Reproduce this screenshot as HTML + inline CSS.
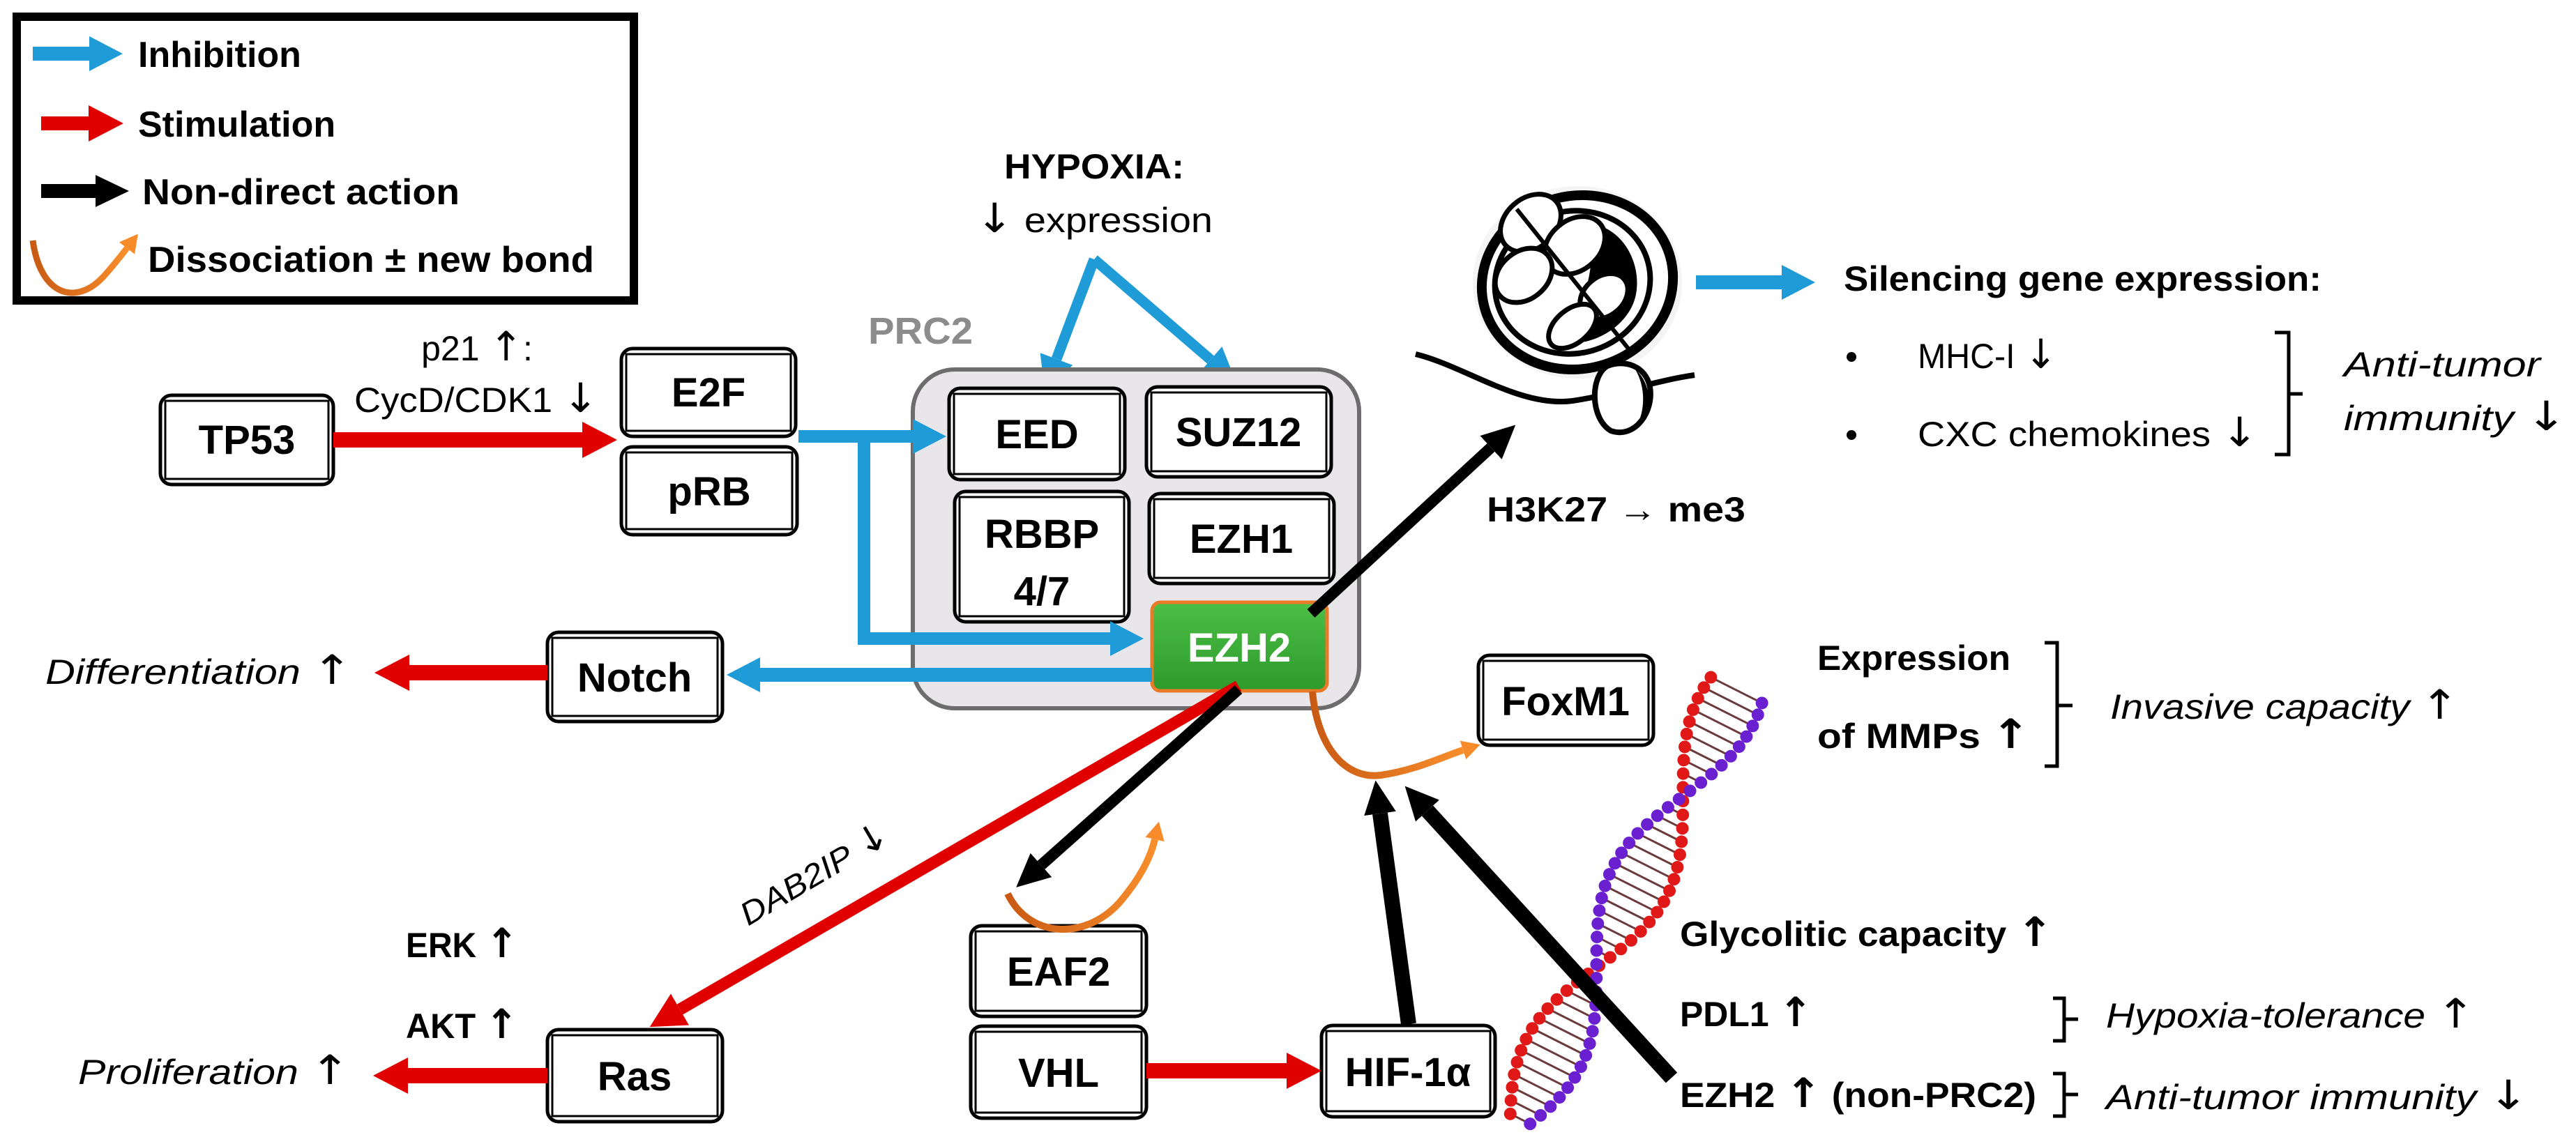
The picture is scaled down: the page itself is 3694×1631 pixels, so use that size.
<!DOCTYPE html>
<html><head><meta charset="utf-8"><style>
html,body{margin:0;padding:0;background:#fff;}
svg{display:block;}
text{font-family:"Liberation Sans",sans-serif;}
.b{font-weight:bold;}
.i{font-style:italic;}
.ar{font-family:"DejaVu Sans",sans-serif;font-style:normal;font-size:58px;}
</style></head><body>
<svg width="3694" height="1631" viewBox="0 0 3694 1631" xmlns="http://www.w3.org/2000/svg">
<defs>
<marker id="hb" markerUnits="userSpaceOnUse" markerWidth="48" markerHeight="50" refX="0" refY="25" orient="auto"><path d="M0,0 L48,25 L0,50 z" fill="#1f9bd7"/></marker>
<marker id="hr" markerUnits="userSpaceOnUse" markerWidth="50" markerHeight="52" refX="0" refY="26" orient="auto"><path d="M0,0 L50,26 L0,52 z" fill="#e00000"/></marker>
<marker id="hk" markerUnits="userSpaceOnUse" markerWidth="48" markerHeight="46" refX="0" refY="23" orient="auto"><path d="M0,0 L48,23 L0,46 z" fill="#000"/></marker>
<marker id="ho" markerUnits="userSpaceOnUse" markerWidth="26" markerHeight="28" refX="0" refY="14" orient="auto"><path d="M0,0 L26,14 L0,28 z" fill="#f78b2a"/></marker>
<linearGradient id="og" x1="0" y1="0" x2="1" y2="0"><stop offset="0" stop-color="#c85a14"/><stop offset="1" stop-color="#f98e2c"/></linearGradient>
<linearGradient id="gg" x1="0" y1="0" x2="0" y2="1"><stop offset="0" stop-color="#4cbf46"/><stop offset="1" stop-color="#2e9a2c"/></linearGradient>
</defs>

<!-- Legend -->
<rect x="24" y="24" width="885" height="407" fill="#fff" stroke="#000" stroke-width="12"/>
<line x1="47" y1="77" x2="128" y2="77" stroke="#1f9bd7" stroke-width="20" marker-end="url(#hb)"/>
<text x="198" y="96" class="b" font-size="52">Inhibition</text>
<line x1="59" y1="177" x2="127" y2="177" stroke="#e00000" stroke-width="20" marker-end="url(#hr)"/>
<text x="198" y="196" class="b" font-size="52">Stimulation</text>
<line x1="59" y1="274" x2="137" y2="274" stroke="#000" stroke-width="20" marker-end="url(#hk)"/>
<text x="204" y="293" class="b" font-size="52" textLength="455" lengthAdjust="spacingAndGlyphs">Non-direct action</text>
<path d="M47,345 C58,425 110,440 150,395 C165,378 175,365 182,356" fill="none" stroke="url(#og)" stroke-width="9" marker-end="url(#ho)"/>
<text x="212" y="390" class="b" font-size="52" textLength="640" lengthAdjust="spacingAndGlyphs">Dissociation ± new bond</text>

<!-- HYPOXIA -->
<text x="1569" y="256" class="b" font-size="50" text-anchor="middle" textLength="258" lengthAdjust="spacingAndGlyphs">HYPOXIA:</text>
<text x="1569" y="333" font-size="50" text-anchor="middle" textLength="340" lengthAdjust="spacingAndGlyphs"><tspan class="ar">↓</tspan> expression</text>
<line x1="1569" y1="372" x2="1515" y2="515" stroke="#1f9bd7" stroke-width="15" marker-end="url(#hb)"/>
<line x1="1569" y1="372" x2="1736" y2="516" stroke="#1f9bd7" stroke-width="15" marker-end="url(#hb)"/>

<!-- PRC2 -->
<text x="1245" y="493" class="b" font-size="54" fill="#8c8c8c" textLength="150" lengthAdjust="spacingAndGlyphs">PRC2</text>
<rect x="1309" y="530" width="640" height="486" rx="60" fill="#e8e6e8" stroke="#6d6d6d" stroke-width="6"/>

<!-- boxes -->
<g fill="#fff" stroke="#000">
<rect x="230" y="567" width="248" height="128" rx="16" stroke-width="5"/><rect x="237" y="575" width="234" height="112" stroke-width="3"/>
<rect x="891" y="500" width="250" height="126" rx="16" stroke-width="5"/><rect x="898" y="508" width="236" height="110" stroke-width="3"/>
<rect x="891" y="641" width="252" height="126" rx="16" stroke-width="5"/><rect x="898" y="649" width="238" height="110" stroke-width="3"/>
<rect x="1361" y="557" width="252" height="131" rx="16" stroke-width="5"/><rect x="1368" y="565" width="238" height="115" stroke-width="3"/>
<rect x="1644" y="555" width="265" height="129" rx="16" stroke-width="5"/><rect x="1651" y="563" width="251" height="113" stroke-width="3"/>
<rect x="1369" y="705" width="250" height="187" rx="16" stroke-width="5"/><rect x="1376" y="713" width="236" height="171" stroke-width="3"/>
<rect x="1648" y="708" width="265" height="129" rx="16" stroke-width="5"/><rect x="1655" y="716" width="251" height="113" stroke-width="3"/>
<rect x="785" y="907" width="251" height="128" rx="16" stroke-width="5"/><rect x="792" y="915" width="237" height="112" stroke-width="3"/>
<rect x="2120" y="940" width="251" height="129" rx="16" stroke-width="5"/><rect x="2127" y="948" width="237" height="113" stroke-width="3"/>
<rect x="1392" y="1328" width="252" height="130" rx="16" stroke-width="5"/><rect x="1399" y="1336" width="238" height="114" stroke-width="3"/>
<rect x="1392" y="1472" width="252" height="132" rx="16" stroke-width="5"/><rect x="1399" y="1480" width="238" height="116" stroke-width="3"/>
<rect x="785" y="1477" width="251" height="132" rx="16" stroke-width="5"/><rect x="792" y="1485" width="237" height="116" stroke-width="3"/>
<rect x="1895" y="1471" width="249" height="131" rx="16" stroke-width="5"/><rect x="1902" y="1479" width="235" height="115" stroke-width="3"/>
</g>
<rect x="1652" y="864" width="251" height="127" rx="12" fill="url(#gg)" stroke="#e87a2a" stroke-width="5"/>

<g class="b" font-size="58" text-anchor="middle" font-weight="bold">
<text x="354" y="651">TP53</text>
<text x="1016" y="583">E2F</text>
<text x="1017" y="725">pRB</text>
<text x="1487" y="643">EED</text>
<text x="1776" y="640">SUZ12</text>
<text x="1494" y="786">RBBP</text>
<text x="1494" y="868">4/7</text>
<text x="1780" y="793">EZH1</text>
<text x="1777" y="949" fill="#fff">EZH2</text>
<text x="910" y="992">Notch</text>
<text x="2245" y="1026">FoxM1</text>
<text x="1518" y="1414">EAF2</text>
<text x="1518" y="1559">VHL</text>
<text x="910" y="1564">Ras</text>
<text x="2019" y="1558">HIF-1α</text>
</g>

<!-- TP53 label -->
<text x="684" y="517" font-size="50" text-anchor="middle">p21 <tspan class="ar">↑</tspan>:</text>
<text x="683" y="591" font-size="50" text-anchor="middle" textLength="350" lengthAdjust="spacingAndGlyphs">CycD/CDK1 <tspan class="ar">↓</tspan></text>
<line x1="478" y1="631" x2="835" y2="631" stroke="#e00000" stroke-width="22" marker-end="url(#hr)"/>

<!-- blue from E2F -->
<polyline points="1145,626 1309,626" fill="none" stroke="#1f9bd7" stroke-width="18" marker-end="url(#hb)"/>
<polyline points="1239,626 1239,916 1592,916" fill="none" stroke="#1f9bd7" stroke-width="18" marker-end="url(#hb)"/>
<line x1="1652" y1="968" x2="1090" y2="968" stroke="#1f9bd7" stroke-width="20" marker-end="url(#hb)"/>

<!-- Notch -> diff -->
<line x1="785" y1="965" x2="587" y2="965" stroke="#e00000" stroke-width="22" marker-end="url(#hr)"/>
<text x="65" y="981" class="i" font-size="50" textLength="440" lengthAdjust="spacingAndGlyphs">Differentiation <tspan class="ar">↑</tspan></text>

<!-- EZH2 -> Ras -->
<line x1="1776" y1="984" x2="975" y2="1448" stroke="#e00000" stroke-width="17" marker-end="url(#hr)"/>
<text transform="translate(1168,1254) rotate(-30.5)" x="0" y="16" class="i" font-size="46" text-anchor="middle" textLength="240" lengthAdjust="spacingAndGlyphs">DAB2IP <tspan class="ar" style="font-size:52px">↓</tspan></text>
<!-- EZH2 -> EAF2 -->
<line x1="1776" y1="989" x2="1493" y2="1241" stroke="#000" stroke-width="16" marker-end="url(#hk)"/>
<path d="M1445,1282 C1475,1345 1555,1350 1605,1295 C1635,1260 1650,1230 1656,1204" fill="none" stroke="url(#og)" stroke-width="10" marker-end="url(#ho)"/>

<!-- Ras -->
<line x1="785" y1="1543" x2="585" y2="1543" stroke="#e00000" stroke-width="22" marker-end="url(#hr)"/>
<text x="112" y="1555" class="i" font-size="50" textLength="390" lengthAdjust="spacingAndGlyphs">Proliferation <tspan class="ar">↑</tspan></text>
<text x="582" y="1373" class="b" font-size="50" textLength="161" lengthAdjust="spacingAndGlyphs">ERK <tspan class="ar">↑</tspan></text>
<text x="582" y="1489" class="b" font-size="50" textLength="161" lengthAdjust="spacingAndGlyphs">AKT <tspan class="ar">↑</tspan></text>
<!-- VHL -> HIF -->
<line x1="1644" y1="1536" x2="1845" y2="1536" stroke="#e00000" stroke-width="22" marker-end="url(#hr)"/>

<!-- nucleosome -->
<g>
<ellipse cx="2262" cy="405" rx="150" ry="138" fill="#f4f4f4"/>
<path d="M2030,508 C2100,525 2180,585 2255,575 C2320,565 2380,545 2430,538" fill="none" stroke="#000" stroke-width="8"/>
<ellipse cx="2262" cy="405" rx="138" ry="124" fill="#fff" stroke="#000" stroke-width="14" transform="rotate(-15 2262 405)"/>
<ellipse cx="2255" cy="405" rx="112" ry="102" fill="none" stroke="#000" stroke-width="8" transform="rotate(-15 2255 405)"/>
<path d="M2280,320 C2340,330 2360,400 2340,440 C2320,480 2270,500 2230,490 C2270,450 2290,390 2280,320 z" fill="#000"/>
<g stroke="#000" stroke-width="7" fill="#fff">
<ellipse cx="2195" cy="320" rx="48" ry="36" transform="rotate(-40 2195 320)"/>
<ellipse cx="2258" cy="352" rx="48" ry="36" transform="rotate(-40 2258 352)"/>
<ellipse cx="2185" cy="395" rx="45" ry="34" transform="rotate(-40 2185 395)"/>
<ellipse cx="2300" cy="425" rx="38" ry="28" transform="rotate(-40 2300 425)"/>
<ellipse cx="2255" cy="468" rx="40" ry="24" transform="rotate(-40 2255 468)"/>
</g>
<line x1="2175" y1="300" x2="2335" y2="500" stroke="#000" stroke-width="6"/>
<path d="M2305,525 C2280,540 2280,600 2310,618 C2345,630 2372,590 2366,555 C2360,525 2330,515 2305,525 z" fill="#fff" stroke="#000" stroke-width="8"/>
<path d="M2345,530 C2370,550 2372,600 2345,615 C2360,590 2360,555 2345,530 z" fill="#000"/>
</g>
<text x="2132" y="748" class="b" font-size="50" textLength="371" lengthAdjust="spacingAndGlyphs">H3K27 → me3</text>
<line x1="1880" y1="880" x2="2138" y2="642" stroke="#000" stroke-width="16" marker-end="url(#hk)"/>

<line x1="2432" y1="405" x2="2555" y2="405" stroke="#1f9bd7" stroke-width="20" marker-end="url(#hb)"/>
<text x="2644" y="417" class="b" font-size="50" textLength="685" lengthAdjust="spacingAndGlyphs">Silencing gene expression:</text>
<circle cx="2655" cy="512" r="7"/><circle cx="2655" cy="624" r="7"/>
<text x="2750" y="528" font-size="50" textLength="200" lengthAdjust="spacingAndGlyphs">MHC-I <tspan class="ar">↓</tspan></text>
<text x="2750" y="640" font-size="50" textLength="488" lengthAdjust="spacingAndGlyphs">CXC chemokines <tspan class="ar">↓</tspan></text>
<path d="M3262,477 L3282,477 L3282,652 L3262,652 M3282,565 L3302,565" fill="none" stroke="#000" stroke-width="5"/>
<text x="3361" y="540" class="i" font-size="50" textLength="282" lengthAdjust="spacingAndGlyphs">Anti-tumor</text>
<text x="3361" y="617" class="i" font-size="50" textLength="320" lengthAdjust="spacingAndGlyphs">immunity <tspan class="ar">↓</tspan></text>

<!-- right lower -->
<text x="2606" y="961" class="b" font-size="50" textLength="277" lengthAdjust="spacingAndGlyphs">Expression</text>
<text x="2606" y="1073" class="b" font-size="50" textLength="305" lengthAdjust="spacingAndGlyphs">of MMPs <tspan class="ar">↑</tspan></text>
<path d="M2932,922 L2950,922 L2950,1099 L2932,1099 M2950,1012 L2972,1012" fill="none" stroke="#000" stroke-width="5"/>
<text x="3026" y="1031" class="i" font-size="50" textLength="500" lengthAdjust="spacingAndGlyphs">Invasive capacity <tspan class="ar">↑</tspan></text>

<text x="2409" y="1357" class="b" font-size="50" textLength="535" lengthAdjust="spacingAndGlyphs">Glycolitic capacity <tspan class="ar">↑</tspan></text>
<text x="2409" y="1472" class="b" font-size="50" textLength="190" lengthAdjust="spacingAndGlyphs">PDL1 <tspan class="ar">↑</tspan></text>
<path d="M2944,1432 L2960,1432 L2960,1493 L2944,1493 M2960,1462 L2980,1462" fill="none" stroke="#000" stroke-width="5"/>
<text x="3020" y="1474" class="i" font-size="50" textLength="529" lengthAdjust="spacingAndGlyphs">Hypoxia-tolerance <tspan class="ar">↑</tspan></text>
<text x="2409" y="1588" class="b" font-size="50" textLength="511" lengthAdjust="spacingAndGlyphs">EZH2 <tspan class="ar">↑</tspan> (non-PRC2)</text>
<path d="M2944,1540 L2960,1540 L2960,1601 L2944,1601 M2960,1570 L2980,1570" fill="none" stroke="#000" stroke-width="5"/>
<text x="3020" y="1591" class="i" font-size="50" textLength="606" lengthAdjust="spacingAndGlyphs">Anti-tumor immunity <tspan class="ar">↓</tspan></text>

<!-- DNA helix -->
<g id="dna"></g>

<!-- orange arc EZH2 -> FoxM1 -->
<path d="M1882,992 C1890,1080 1935,1118 1980,1112 C2030,1105 2070,1085 2098,1076" fill="none" stroke="url(#og)" stroke-width="10" marker-end="url(#ho)"/>
<!-- black arrows to arc -->
<line x1="2020" y1="1469" x2="1979" y2="1167" stroke="#000" stroke-width="22" marker-end="url(#hk)"/>
<line x1="2397" y1="1546" x2="2047" y2="1163" stroke="#000" stroke-width="22" marker-end="url(#hk)"/>
</svg>
<script>
(function(){
var g=document.getElementById('dna');
var x0=2490,y0=990,x1=2180,y1=1605;
var dx=x1-x0,dy=y1-y0,L=Math.sqrt(dx*dx+dy*dy),ux=dx/L,uy=dy/L,px=-uy,py=ux;
var n=40,A=44;
var rungs='',balls='';
for(var i=0;i<n;i++){
 var t=i/(n-1),s=t*L,ph=t*1.25*Math.PI*2+1.2;
 var cx=x0+ux*s,cy=y0+uy*s;
 var a=Math.sin(ph)*A;
 var ax=cx+px*a,ay=cy+py*a,bx=cx-px*a,by=cy-py*a;
 rungs+='<line x1="'+ax+'" y1="'+ay+'" x2="'+bx+'" y2="'+by+'" stroke="#6b3a3a" stroke-width="3"/>';
 balls+='<circle cx="'+ax+'" cy="'+ay+'" r="9" fill="#e01818"/><circle cx="'+bx+'" cy="'+by+'" r="9" fill="#6a1fd0"/>';
}
g.innerHTML=rungs+balls;
})();
</script>
</body></html>
